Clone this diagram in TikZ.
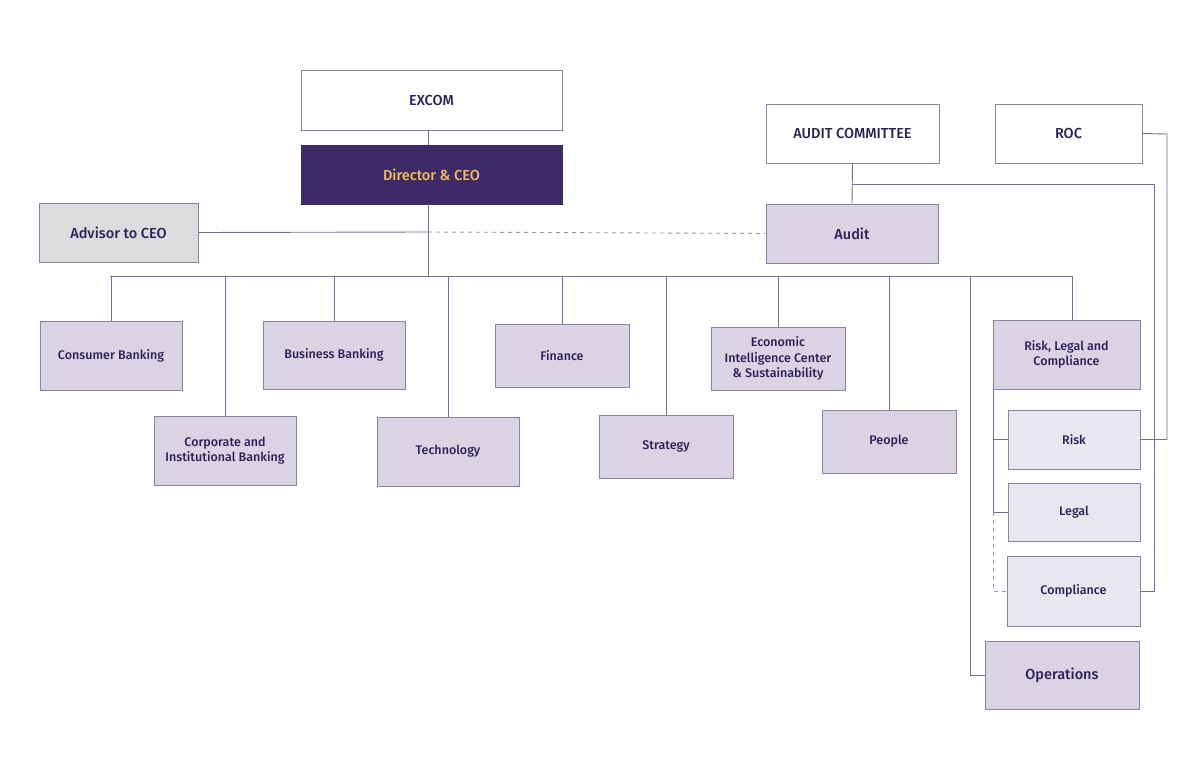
\documentclass[tikz,border=0pt]{standalone}
\usepackage{fontspec}
\setmainfont{Fira Sans Medium}
\definecolor{txt}{HTML}{2B2159}
\definecolor{bord}{HTML}{8A84A3}
\definecolor{lin}{HTML}{756E93}
\definecolor{dlin}{HTML}{9A96A8}
\definecolor{ceofill}{HTML}{3F2A68}
\definecolor{ceotxt}{HTML}{F2BE55}
\definecolor{lav}{HTML}{D9D3E3}
\definecolor{lavlight}{HTML}{E8E6EE}
\definecolor{advfill}{HTML}{DCDCDE}
\begin{document}
\begin{tikzpicture}[x=1pt,y=-1pt,
  box/.style={draw=bord,line width=0.9pt,inner sep=0pt,align=center,text=txt,font=\fontsize{12.5}{15.5}\selectfont},
  big/.style={font=\fontsize{14.5}{17}\selectfont},
  topbox/.style={box,fill=white,big},
  unit/.style={box,fill=lav},
  sub/.style={box,fill=lavlight},
  conn/.style={draw=lin,line width=0.9pt},
  dconn/.style={conn,draw=dlin,dash pattern=on 4pt off 4pt}]
\useasboundingbox[fill=white] (0,0) rectangle (1200,757);
\node[topbox,minimum width=261,minimum height=60] (excom) at (431.5,100) {EXCOM};
\node[box,fill=ceofill,draw=ceofill,text=ceotxt,big,minimum width=261,minimum height=59] (ceo) at (431.5,174.5) {Director \& CEO};
\node[box,fill=advfill,big,minimum width=159,minimum height=59] (adv) at (118.5,232.5) {Advisor to CEO};
\node[topbox,minimum width=173,minimum height=59] (ac) at (852.5,133.5) {AUDIT COMMITTEE};
\node[topbox,minimum width=147,minimum height=59] (roc) at (1068.5,133.5) {ROC};
\node[unit,big,minimum width=172,minimum height=59] (audit) at (852,233.5) {Audit};
\node[unit,minimum width=142,minimum height=69] (cb) at (111,355.5) {Consumer Banking};
\node[unit,minimum width=142,minimum height=69] (cib) at (225,450.5) {Corporate and\\Institutional Banking};
\node[unit,minimum width=142,minimum height=68] (bb) at (334,355) {Business Banking};
\node[unit,minimum width=142,minimum height=69] (tech) at (448,451.5) {Technology};
\node[unit,minimum width=134,minimum height=63] (fin) at (562,355.5) {Finance};
\node[unit,minimum width=134,minimum height=63] (strat) at (666,446.5) {Strategy};
\node[unit,minimum width=134,minimum height=63] (eic) at (778,358.5) {Economic\\Intelligence Center\\\& Sustainability};
\node[unit,minimum width=134,minimum height=63] (people) at (889,441.5) {People};
\node[unit,minimum width=147,minimum height=69] (rlc) at (1066.5,354.5) {Risk, Legal and\\Compliance};
\node[sub,minimum width=132,minimum height=59] (risk) at (1074,439.5) {Risk};
\node[sub,minimum width=132,minimum height=58] (legal) at (1074,512) {Legal};
\node[sub,minimum width=133,minimum height=70] (comp) at (1073.5,591) {Compliance};
\node[unit,big,minimum width=154,minimum height=68] (ops) at (1062,675) {Operations};
% coordinates
\coordinate (ceodrop) at (428,204);
\coordinate (busL) at (110,276);
\coordinate (busR) at (1072,276);
\coordinate (mid) at (428,232);
\coordinate (opsx) at (970,276);
\coordinate (acbr) at (852,184);
\coordinate (acR) at (1154,184);
\coordinate (rocR) at (1167,134);
\coordinate (rlcL) at (993,389);
\coordinate (rlcLeg) at (993,512);
% connectors
\draw[conn] (excom.south -| ceodrop) -- (ceo.north -| ceodrop);
\draw[conn] (ceodrop) -- (ceodrop |- busL);
\draw[conn] (adv.east) -- (mid);
\draw[dconn] (mid) -- (audit.west);
\draw[conn] (busL) -- (busR);
\foreach \n in {cb,cib,bb,tech,fin,strat,eic,people}
  \draw[conn] (\n.north) -- (\n.north |- busL);
\draw[conn] (busR) -- (busR |- rlc.north);
\draw[conn] (opsx) |- (ops.west);
\draw[conn] (ac.south) -- (audit.north);
\draw[conn] (acbr) -- (acR) |- (comp.east);
\draw[conn] (roc.east) -- (rocR) |- (risk.east);
\draw[conn] (rlcL) -- (rlcLeg);
\draw[conn] (rlcL |- risk.west) -- (risk.west);
\draw[conn] (rlcLeg) -- (legal.west |- rlcLeg);
\draw[dconn] (rlcLeg) |- (comp.west);
\end{tikzpicture}
\end{document}
